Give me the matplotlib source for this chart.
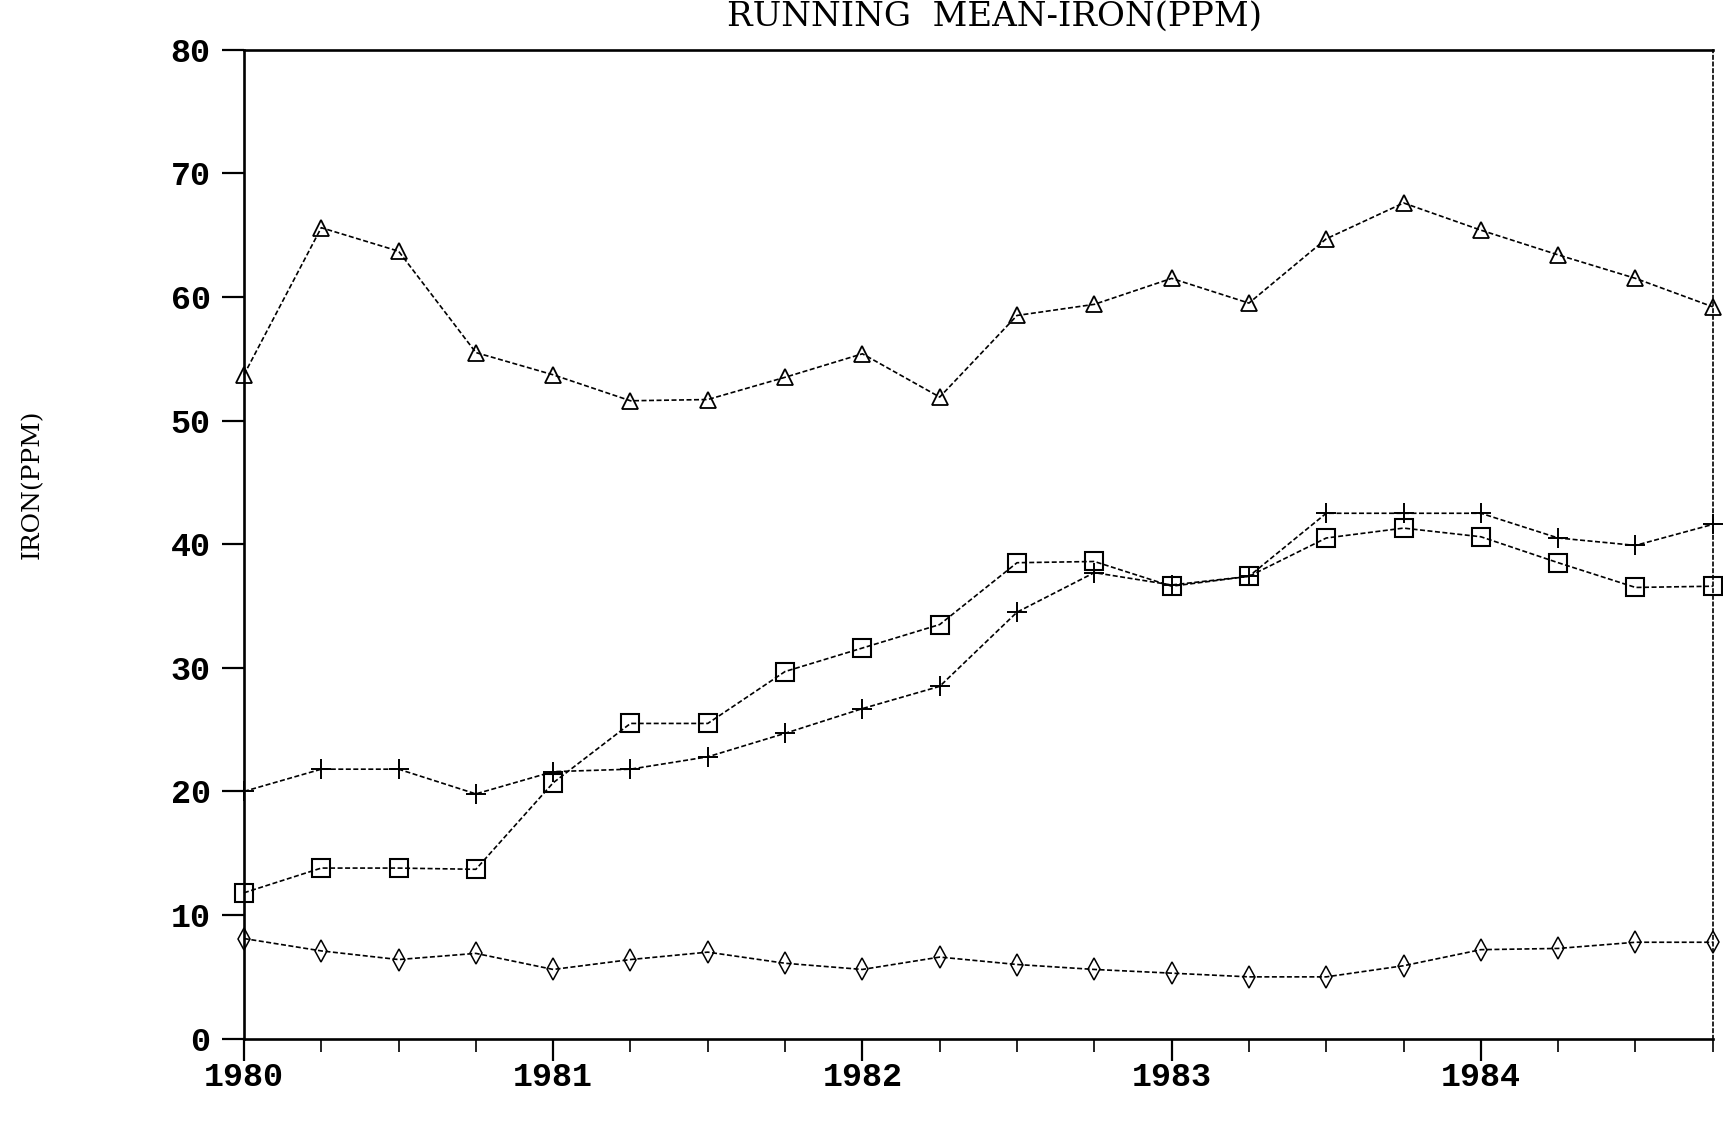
import numpy as np
import matplotlib.pyplot as plt
from matplotlib.ticker import MultipleLocator

# quarterly running means, 1980 Q1 .. 1984 Q4
quarters = [1980.0, 1980.25, 1980.5, 1980.75,
            1981.0, 1981.25, 1981.5, 1981.75,
            1982.0, 1982.25, 1982.5, 1982.75,
            1983.0, 1983.25, 1983.5, 1983.75,
            1984.0, 1984.25, 1984.5, 1984.75]

triangle_vals = [53.7, 65.6, 63.7, 55.5, 53.7, 51.6, 51.7, 53.5, 55.4, 51.9,
                 58.5, 59.4, 61.5, 59.5, 64.7, 67.6, 65.4, 63.4, 61.5, 59.2]
plus_vals = [20.0, 21.8, 21.8, 19.8, 21.6, 21.8, 22.8, 24.7, 26.7, 28.5,
             34.5, 37.7, 36.7, 37.4, 42.5, 42.5, 42.5, 40.5, 39.9, 41.6]
square_vals = [11.8, 13.8, 13.8, 13.7, 20.7, 25.5, 25.5, 29.7, 31.6, 33.5,
               38.5, 38.6, 36.6, 37.4, 40.5, 41.3, 40.6, 38.5, 36.5, 36.6]
diamond_vals = [8.1, 7.1, 6.4, 6.9, 5.6, 6.4, 7.0, 6.1, 5.6, 6.6,
                6.0, 5.6, 5.3, 5.0, 5.0, 5.9, 7.2, 7.3, 7.8, 7.8]

year_ticks = [1980, 1981, 1982, 1983, 1984]
year_labels = ['1980', '1981', '1982', '1983', '1984']
y_ticks = [0, 10, 20, 30, 40, 50, 60, 70, 80]

fig = plt.figure(figsize=(17.24, 11.29), dpi=100)
ax = fig.add_axes([0.1415, 0.08, 0.852, 0.876])

ls = (0, (3, 1.5))
ax.plot(quarters, triangle_vals, color='k', lw=1.2, ls=ls, marker='^',
        ms=11, mfc='none', mec='k', mew=1.3, clip_on=False)
ax.plot(quarters, plus_vals, color='k', lw=1.2, ls=ls, marker='+',
        ms=15, mec='k', mew=1.4, clip_on=False)
ax.plot(quarters, square_vals, color='k', lw=1.2, ls=ls, marker='s',
        ms=13.5, mfc='none', mec='k', mew=1.5, clip_on=False)
ax.plot(quarters, diamond_vals, color='k', lw=1.2, ls=ls, marker='d',
        ms=11, mfc='none', mec='k', mew=1.1, clip_on=False)

ax.set_xlim(1980, 1984.75)
ax.set_ylim(0, 80)

ax.set_xticks(year_ticks)
ax.set_xticklabels(year_labels)
ax.xaxis.set_minor_locator(MultipleLocator(0.25))
ax.set_yticks(y_ticks)

ax.tick_params(axis='x', which='major', direction='out', length=16, width=1.6,
               pad=1, labelsize=24)
ax.tick_params(axis='x', which='minor', direction='out', length=9, width=1.2)
ax.tick_params(axis='y', which='major', direction='out', length=16, width=1.6,
               pad=8, labelsize=24)
ax.tick_params(top=False, right=False)

for lab in ax.get_xticklabels() + ax.get_yticklabels():
    lab.set_fontfamily('Liberation Mono')
    lab.set_fontweight('bold')

for side in ['left', 'bottom', 'top']:
    ax.spines[side].set_linewidth(1.9)
ax.spines['right'].set_linewidth(1.2)
ax.spines['right'].set_linestyle((0, (2, 2)))

fig.text(0.577, 0.985, 'RUNNING  MEAN-IRON(PPM)', ha='center', va='center',
         family='DejaVu Serif', fontsize=24.5)
fig.text(0.019, 0.571, 'IRON(PPM)', ha='center', va='center', rotation=90,
         family='DejaVu Serif', fontsize=18)

fig.savefig('out.png', dpi=100)
